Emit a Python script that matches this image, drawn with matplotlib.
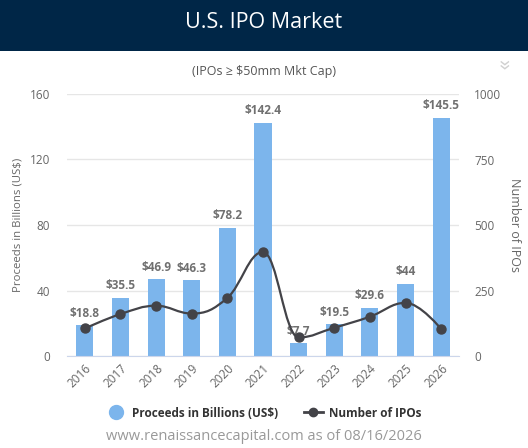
import matplotlib
matplotlib.use("Agg")
import matplotlib.pyplot as plt
from matplotlib.path import Path
from matplotlib.patches import PathPatch, Rectangle
from matplotlib.lines import Line2D
import numpy as np

plt.rcParams['font.family'] = ['Open Sans', 'DejaVu Sans']

years = ['2016', '2017', '2018', '2019', '2020', '2021', '2022', '2023', '2024', '2025', '2026']
proceeds = [18.8, 35.5, 46.9, 46.3, 78.2, 142.4, 7.7, 19.5, 29.6, 44, 145.5]
proceed_labels = ['$18.8', '$35.5', '$46.9', '$46.3', '$78.2', '$142.4', '$7.7', '$19.5', '$29.6', '$44', '$145.5']
num_ipos = [105, 160, 192, 162, 222, 397, 71, 108, 150, 203, 103]

left_ticks = [0, 40, 80, 120, 160]
right_ticks = [0, 250, 500, 750, 1000]

BAR = '#7cb5ec'
LINE = '#434348'

W, H = 528, 448
fig = plt.figure(figsize=(W / 100, H / 100), dpi=100)
fig.patch.set_facecolor('white')

# header band
fig.patches.append(Rectangle((0, 1 - 51 / H), 1, 51 / H, transform=fig.transFigure,
                             facecolor='#002647', edgecolor='none', zorder=0))
fig.text(0.5, 1 - 23 / H, 'U.S. IPO Market', color='white', fontsize=15.5,
         ha='center', va='center')
fig.text(0.5, 1 - 72 / H, '(IPOs ≥ $50mm Mkt Cap)', color='#555555', fontsize=9,
         ha='center', va='center')
fig.text(502 / W, 1 - 64 / H, '»', color='#d0d0d0', fontsize=15, rotation=-90,
         ha='center', va='center')

ax = fig.add_axes([67 / W, 1 - 356 / H, (459 - 67) / W, (356 - 94) / H])
ax2 = ax.twinx()

x = np.arange(len(years))
ax.bar(x, proceeds, width=0.48, color=BAR, zorder=2)
ax.set_xlim(-0.5, len(years) - 0.5)
ax.set_ylim(0, 160)
ax.set_yticks(left_ticks)
ax.set_yticklabels([str(t) for t in left_ticks])
ax.grid(axis='y', color='#e6e6e6', linewidth=1, zorder=0)
ax.set_axisbelow(True)
for s in ['top', 'right', 'left']:
    ax.spines[s].set_visible(False)
ax.spines['bottom'].set_color('#ccd6eb')
ax.tick_params(axis='y', length=0, pad=12, colors='#666666', labelsize=8.5)
ax.tick_params(axis='x', length=0, pad=4, colors='#666666', labelsize=8.5)
ax.set_xticks(x)
ax.set_xticklabels(years, rotation=45, ha='right', rotation_mode='anchor')
ax.set_ylabel('Proceeds in Billions (US$)', color='#666666', fontsize=8.2, labelpad=5)

for xi, v, t in zip(x, proceeds, proceed_labels):
    ax.annotate(t, (xi, v), xytext=(0, 4), textcoords='offset points', ha='center',
                va='bottom', fontsize=8.5, fontweight='bold', color='#707070', zorder=5)

ax2.set_ylim(0, 1000)
ax2.set_yticks(right_ticks)
ax2.set_yticklabels([str(t) for t in right_ticks])
for s in ['top', 'right', 'left', 'bottom']:
    ax2.spines[s].set_visible(False)
ax2.tick_params(axis='y', length=0, pad=11, colors='#666666', labelsize=8.5)
ax2.set_ylabel('Number of IPOs', color='#666666', fontsize=9, rotation=270, labelpad=14)


# Highcharts-like spline through the points
def spline_path(xs, ys, smoothing=1.5):
    n = len(xs)
    lc = [None] * n
    rc = [None] * n
    denom = smoothing + 1
    for i in range(n):
        if 0 < i < n - 1:
            px, py = xs[i], ys[i]
            lx, ly = xs[i - 1], ys[i - 1]
            nx, ny = xs[i + 1], ys[i + 1]
            lcx = (smoothing * px + lx) / denom
            lcy = (smoothing * py + ly) / denom
            rcx = (smoothing * px + nx) / denom
            rcy = (smoothing * py + ny) / denom
            corr = ((rcy - lcy) * (rcx - px)) / (rcx - lcx) + py - rcy
            lcy += corr
            rcy += corr
            if lcy > ly and lcy > py:
                lcy = max(ly, py)
                rcy = 2 * py - lcy
            elif lcy < ly and lcy < py:
                lcy = min(ly, py)
                rcy = 2 * py - lcy
            if rcy > ny and rcy > py:
                rcy = max(ny, py)
                lcy = 2 * py - rcy
            elif rcy < ny and rcy < py:
                rcy = min(ny, py)
                lcy = 2 * py - rcy
            lc[i] = (lcx, lcy)
            rc[i] = (rcx, rcy)
        else:
            lc[i] = (xs[i], ys[i])
            rc[i] = (xs[i], ys[i])
    verts = [(xs[0], ys[0])]
    codes = [Path.MOVETO]
    for i in range(1, n):
        verts += [rc[i - 1], lc[i], (xs[i], ys[i])]
        codes += [Path.CURVE4] * 3
    return Path(verts, codes)


ax2.add_patch(PathPatch(spline_path(list(x.astype(float)), list(map(float, num_ipos))),
                        facecolor='none', edgecolor=LINE, linewidth=1.6, zorder=3))
ax2.plot(x, num_ipos, linestyle='none', marker='o', markersize=6.5, color=LINE, zorder=4)

# legend
h1 = Line2D([], [], linestyle='none', marker='o', markersize=10, color=BAR)
h2 = Line2D([], [], color=LINE, linewidth=2, marker='o', markersize=6)
leg = fig.legend([h1, h2], ['Proceeds in Billions (US$)', 'Number of IPOs'],
                 loc='center', bbox_to_anchor=(0.5, 1 - 413 / H), ncol=2, frameon=False,
                 prop={'weight': 'bold', 'size': 8.5}, handlelength=1.6, columnspacing=2.2,
                 handletextpad=0.5)
for t in leg.get_texts():
    t.set_color('#333333')

fig.text(0.5, 1 - 436 / H, 'www.renaissancecapital.com as of 08/16/2026', color='#999999',
         fontsize=10.5, ha='center', va='center')

fig.savefig('out.png', dpi=100)
